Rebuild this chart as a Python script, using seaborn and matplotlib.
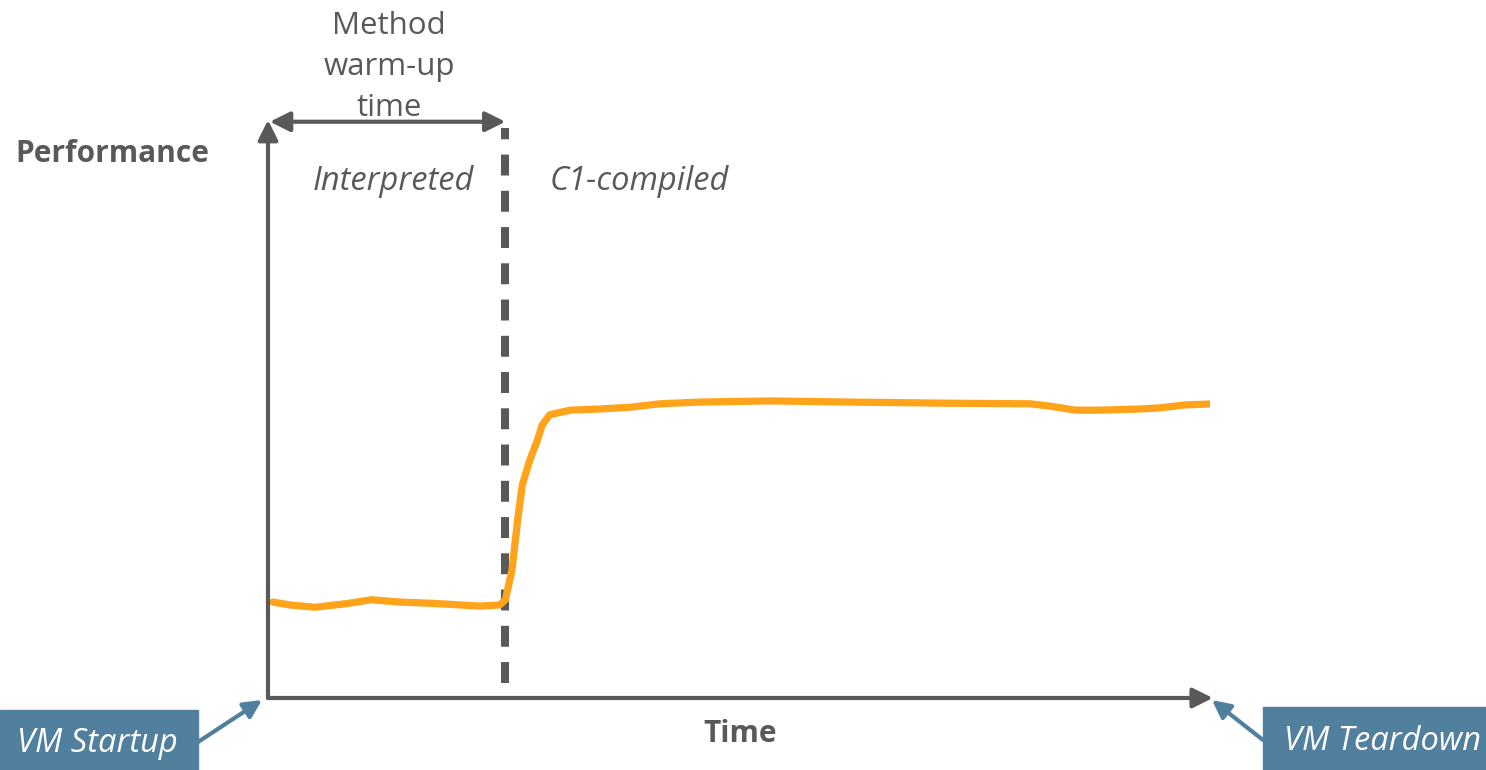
"""
JIT warm-up sketch: performance over time, interpreted vs C1-compiled.
"""

import matplotlib
matplotlib.use("Agg")
import matplotlib.pyplot as plt
import seaborn as sns

# orange performance curve (time 0..100, performance 0..100)
time = [0.5, 2.3, 5.0, 8.2, 11.0, 14.0, 17.2, 20.4, 22.5, 24.6, 25.2, 25.9,
        26.5, 27.0, 27.8, 28.6, 29.1, 29.9, 32.1, 35.2, 38.4, 41.6, 45.9,
        53.3, 61.8, 72.4, 80.9, 83.0, 85.7, 88.3, 92.6, 94.7, 97.3, 100.5]
perf = [16.6, 16.1, 15.7, 16.3, 17.0, 16.6, 16.4, 16.1, 15.9, 16.1, 17.0, 22.1,
        30.8, 36.9, 41.2, 44.6, 47.2, 49.0, 49.8, 50.0, 50.3, 50.9, 51.2,
        51.4, 51.2, 51.0, 50.9, 50.5, 49.8, 49.8, 50.0, 50.2, 50.7, 50.9]
warmup_end = 25.2

phase_labels = ["Interpreted", "C1-compiled"]
warmup_label = "Method\nwarm-up\ntime"
x_label = "Time"
y_label = "Performance"
start_label = "VM Startup"
end_label = "VM Teardown"

GREY = "#595959"
ORANGE = "#FFA31A"
STEEL = "#51809F"

sns.set_theme(style="white")
plt.rcParams["font.family"] = ["Open Sans", "DejaVu Sans"]

W, H = 1486, 770
fig = plt.figure(figsize=(W / 100, H / 100), dpi=100)
ax = fig.add_axes([268 / W, 72 / H, 942 / W, 578 / H])
ax.set_xlim(0, 100)
ax.set_ylim(0, 100)
ax.axis("off")

sns.lineplot(x=time, y=perf, ax=ax, color=ORANGE, lw=5.2, zorder=3)

# warm-up boundary
ax.axvline(warmup_end, ymin=0.026, ymax=0.986, color=GREY, lw=5.8,
           dashes=(2.6, 1.9), zorder=2)

# axes arrows
arrow_kw = dict(arrowstyle="-|>,head_length=0.6,head_width=0.3", color=GREY,
                lw=3, mutation_scale=20, shrinkA=0, shrinkB=0)
ax.annotate("", xy=(0, 1.0), xytext=(0, 0), xycoords="axes fraction",
            arrowprops=arrow_kw)
ax.annotate("", xy=(1.003, 0), xytext=(0, 0), xycoords="axes fraction",
            arrowprops=arrow_kw)
ax.annotate("", xy=(warmup_end, 0.997), xytext=(0.2, 0.997),
            xycoords=("data", "axes fraction"),
            arrowprops=dict(arrow_kw, arrowstyle="<|-|>,head_length=0.6,head_width=0.3"))

def px(x, y):
    return x / W, 1 - y / H

fs_bold, fs_reg, fs_it = 21.5, 22.5, 23.5
fig.text(*px(15, 154), y_label, fontsize=fs_bold, fontweight="bold", color=GREY,
         ha="left", va="center")
fig.text(*px(740, 734), x_label, fontsize=fs_bold, fontweight="bold", color=GREY,
         ha="center", va="center")
fig.text(*px(389, 67), warmup_label, fontsize=fs_reg, color=GREY, ha="center",
         va="center", linespacing=1.5)
fig.text(*px(393, 182), phase_labels[0], fontsize=fs_it, style="italic",
         color=GREY, ha="center", va="center")
fig.text(*px(550, 182), phase_labels[1], fontsize=fs_it, style="italic",
         color=GREY, ha="left", va="center")

# VM boxes
fig.patches.append(plt.Rectangle(px(0, 770), 198 / W, 60 / H,
                                 transform=fig.transFigure, color=STEEL))
fig.patches.append(plt.Rectangle(px(1263, 770), 223 / W, 63 / H,
                                 transform=fig.transFigure, color=STEEL))
fig.text(*px(97, 743), start_label, fontsize=fs_it, style="italic", color="white",
         ha="center", va="center")
fig.text(*px(1382, 741), end_label, fontsize=fs_it, style="italic", color="white",
         ha="center", va="center")

box_arrow = dict(arrowstyle="-|>,head_length=0.6,head_width=0.3", color=STEEL,
                 lw=3, mutation_scale=18, shrinkA=0, shrinkB=0)
ax.annotate("", xy=px(262, 700), xytext=px(198, 742),
            xycoords="figure fraction", arrowprops=box_arrow)
ax.annotate("", xy=px(1212, 700), xytext=px(1263, 740),
            xycoords="figure fraction", arrowprops=box_arrow)

fig.savefig("out.png", dpi=100)
